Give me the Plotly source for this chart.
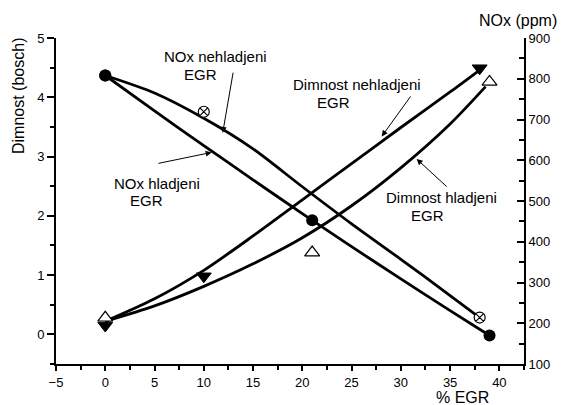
import plotly.graph_objects as go

# Measured points
egr_nox_cooled = [0, 21, 39]
nox_cooled = [808, 453, 170]
egr_nox_uncooled = [0, 10, 38]
nox_uncooled = [808, 719, 214]
egr_smoke_uncooled = [0, 10, 38]
smoke_uncooled = [0.15, 0.98, 4.49]
egr_smoke_cooled = [0, 21, 39]
smoke_cooled = [0.28, 1.38, 4.26]

# Smoothed trend curves
fit_egr_nox_cooled = [0, 5, 10, 15, 20, 25, 30, 35, 39]
fit_nox_cooled = [808, 721, 636, 552, 469, 388, 309, 231, 170]
fit_egr_nox_uncooled = [0, 5, 10, 15, 20, 25, 30, 35, 38]
fit_nox_uncooled = [808, 765, 703, 628, 535, 444, 357, 268, 214]
fit_egr_smoke_uncooled = [0, 5, 10, 15, 20, 25, 30, 35, 38]
fit_smoke_uncooled = [0.22, 0.60, 1.08, 1.66, 2.27, 2.88, 3.49, 4.09, 4.46]
fit_egr_smoke_cooled = [0, 5, 10, 15, 20, 25, 30, 35, 38.6]
fit_smoke_cooled = [0.22, 0.48, 0.81, 1.19, 1.63, 2.17, 2.81, 3.55, 4.18]

x_ticks = [-5, 0, 5, 10, 15, 20, 25, 30, 35, 40]
y_ticks = [0, 1, 2, 3, 4, 5]
y2_ticks = [100, 200, 300, 400, 500, 600, 700, 800, 900]

W, H = 563, 405
L, R, T, B = 56, 39, 38, 41
FONT = "Liberation Sans, Arial, sans-serif"


def px_to_paper(px, py):
    return (px - L) / (W - L - R), (H - B - py) / (H - T - B)


fig = go.Figure()

line_style = dict(color="black", width=2.8, shape="spline", smoothing=0.8)

fig.add_trace(go.Scatter(x=fit_egr_smoke_cooled, y=fit_smoke_cooled, mode="lines",
                         line=line_style, yaxis="y", showlegend=False, hoverinfo="skip"))
fig.add_trace(go.Scatter(x=fit_egr_smoke_uncooled, y=fit_smoke_uncooled, mode="lines",
                         line=line_style, yaxis="y", showlegend=False, hoverinfo="skip"))
fig.add_trace(go.Scatter(x=fit_egr_nox_uncooled, y=fit_nox_uncooled, mode="lines",
                         line=line_style, yaxis="y2", showlegend=False, hoverinfo="skip"))
fig.add_trace(go.Scatter(x=fit_egr_nox_cooled, y=fit_nox_cooled, mode="lines",
                         line=line_style, yaxis="y2", showlegend=False, hoverinfo="skip"))

fig.add_trace(go.Scatter(x=egr_smoke_uncooled, y=smoke_uncooled, mode="markers", yaxis="y",
                         marker=dict(symbol="triangle-down", size=13, color="black",
                                     line=dict(color="black", width=1)),
                         showlegend=False))
fig.add_trace(go.Scatter(x=egr_smoke_cooled, y=smoke_cooled, mode="markers", yaxis="y",
                         marker=dict(symbol="triangle-up", size=13, color="white",
                                     line=dict(color="black", width=1.2)),
                         showlegend=False))
fig.add_trace(go.Scatter(x=egr_nox_uncooled, y=nox_uncooled, mode="markers", yaxis="y2",
                         marker=dict(symbol="circle-x", size=11, color="white",
                                     line=dict(color="black", width=1.2)),
                         showlegend=False))
fig.add_trace(go.Scatter(x=egr_nox_cooled, y=nox_cooled, mode="markers", yaxis="y2",
                         marker=dict(symbol="circle", size=12, color="black"),
                         showlegend=False))

annotations = []

# Text labels
labels = [
    ("NOx nehladjeni", 215.5, 56), ("EGR", 200.5, 74),
    ("NOx hladjeni", 157, 183), ("EGR", 146, 200),
    ("Dimnost nehladjeni", 356.7, 85), ("EGR", 333.3, 102.7),
    ("Dimnost hladjeni", 441, 197), ("EGR", 427, 215),
]
for text, cx, cy in labels:
    xp, yp = px_to_paper(cx, cy)
    annotations.append(dict(text=text, x=xp, y=yp, xref="paper", yref="paper",
                            showarrow=False, xanchor="center", yanchor="middle",
                            font=dict(family=FONT, size=15, color="black")))

# Pointer arrows (tip, tail) in axis units
arrows = [
    ((11.92, 3.40), (13.0, 4.44)),
    ((10.8, 3.07), (5.25, 2.88)),
    ((28.06, 3.34), (31.1, 4.04)),
    ((31.6, 2.96), (34.8, 2.47)),
]
for (tx, ty), (sx, sy) in arrows:
    annotations.append(dict(x=tx, y=ty, ax=sx, ay=sy, xref="x", yref="y", axref="x", ayref="y",
                            showarrow=True, arrowhead=2, arrowsize=1.2, arrowwidth=1,
                            arrowcolor="black", text=""))

# Axis titles
xp, yp = px_to_paper(18, 96)
annotations.append(dict(text="Dimnost (bosch)", x=xp, y=yp, xref="paper", yref="paper",
                        showarrow=False, textangle=-90, xanchor="center", yanchor="middle",
                        font=dict(family=FONT, size=16, color="black")))
xp, yp = px_to_paper(518, 20)
annotations.append(dict(text="NOx (ppm)", x=xp, y=yp, xref="paper", yref="paper",
                        showarrow=False, xanchor="center", yanchor="middle",
                        font=dict(family=FONT, size=16, color="black")))
xp, yp = px_to_paper(462, 397)
annotations.append(dict(text="% EGR", x=xp, y=yp, xref="paper", yref="paper",
                        showarrow=False, xanchor="center", yanchor="middle",
                        font=dict(family=FONT, size=16, color="black")))

tick_font = dict(family=FONT, size=13, color="black")

fig.update_layout(
    width=W, height=H,
    margin=dict(l=L, r=R, t=T, b=B, pad=0),
    paper_bgcolor="white", plot_bgcolor="white",
    showlegend=False,
    xaxis=dict(range=[-5, 42.5], tickvals=x_ticks, ticks="outside", ticklen=5, tickwidth=1.5,
               tickcolor="black", showline=True, linecolor="black", linewidth=2,
               showgrid=False, zeroline=False, tickfont=tick_font,
               minor=dict(dtick=2.5, tick0=0, ticks="outside", ticklen=4, tickwidth=1.5,
                          tickcolor="black")),
    yaxis=dict(range=[-0.5, 5], tickvals=y_ticks, ticks="outside", ticklen=7, tickwidth=1.5,
               tickcolor="black", showline=True, linecolor="black", linewidth=2,
               showgrid=False, zeroline=False, tickfont=tick_font,
               minor=dict(dtick=0.5, tick0=0, ticks="outside", ticklen=4, tickwidth=1.5,
                          tickcolor="black")),
    yaxis2=dict(range=[100, 900], tickvals=y2_ticks, overlaying="y", side="right",
                ticks="inside", ticklen=7, tickwidth=1.5, tickcolor="black",
                showline=True, linecolor="black", linewidth=2,
                showgrid=False, zeroline=False, tickfont=tick_font,
                minor=dict(dtick=50, tick0=0, ticks="inside", ticklen=5, tickwidth=1.5,
                           tickcolor="black")),
    annotations=annotations,
)

fig.write_html("out.html")
